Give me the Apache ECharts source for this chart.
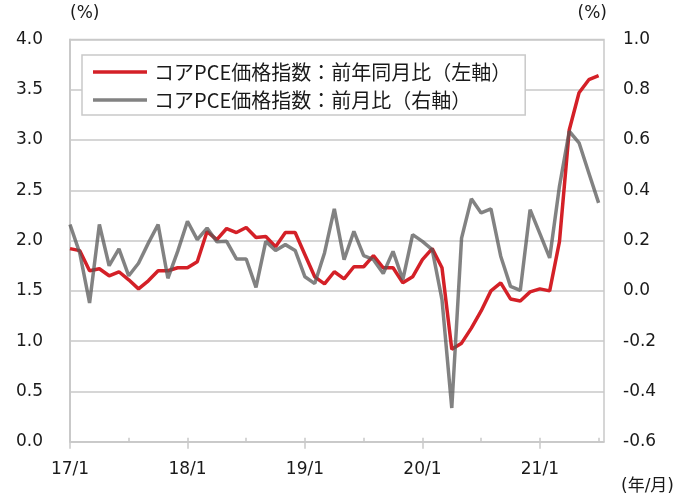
<!DOCTYPE html>
<html>
<head>
<meta charset="utf-8">
<script src="https://cdn.jsdelivr.net/npm/echarts@6/dist/echarts.min.js"></script>
<style>
  html, body { margin: 0; padding: 0; background: #ffffff; }
  #chart { width: 684px; height: 500px; }
</style>
</head>
<body>
<div id="chart"></div>
<script>
// ---- data (monthly, 2017/1 .. 2021/7) ----
const months = [
  '17/1','17/2','17/3','17/4','17/5','17/6','17/7','17/8','17/9','17/10','17/11','17/12',
  '18/1','18/2','18/3','18/4','18/5','18/6','18/7','18/8','18/9','18/10','18/11','18/12',
  '19/1','19/2','19/3','19/4','19/5','19/6','19/7','19/8','19/9','19/10','19/11','19/12',
  '20/1','20/2','20/3','20/4','20/5','20/6','20/7','20/8','20/9','20/10','20/11','20/12',
  '21/1','21/2','21/3','21/4','21/5','21/6','21/7'
];
const yoyName = 'コアPCE価格指数：前年同月比（左軸）';
const momName = 'コアPCE価格指数：前月比（右軸）';
const yoy = [
  1.92, 1.90, 1.70, 1.72, 1.65, 1.69, 1.61, 1.52, 1.60, 1.70, 1.70, 1.73,
  1.73, 1.79, 2.09, 2.01, 2.12, 2.08, 2.13, 2.03, 2.04, 1.94, 2.08, 2.08,
  1.86, 1.64, 1.57, 1.69, 1.62, 1.74, 1.74, 1.85, 1.73, 1.73, 1.58, 1.64,
  1.81, 1.92, 1.73, 0.92, 0.98, 1.13, 1.30, 1.50, 1.58, 1.42, 1.40, 1.49,
  1.52, 1.50, 1.99, 3.10, 3.47, 3.60, 3.64
];
const mom = [
  0.264, 0.15, -0.048, 0.264, 0.10, 0.167, 0.06, 0.11, 0.19, 0.264, 0.05, 0.157,
  0.277, 0.204, 0.25, 0.195, 0.197, 0.127, 0.127, 0.014, 0.197, 0.161, 0.184, 0.161,
  0.056, 0.029, 0.151, 0.326, 0.124, 0.237, 0.140, 0.124, 0.069, 0.157, 0.045, 0.224,
  0.197, 0.164, -0.035, -0.466, 0.21, 0.366, 0.31, 0.326, 0.138, 0.018, 0.002, 0.323,
  0.228, 0.131, 0.416, 0.635, 0.589, 0.469, 0.35
];
const xTickLabels = ['17/1', '18/1', '19/1', '20/1', '21/1'];
const leftTicks = [0.0, 0.5, 1.0, 1.5, 2.0, 2.5, 3.0, 3.5, 4.0];
const rightTicks = [-0.6, -0.4, -0.2, 0.0, 0.2, 0.4, 0.6, 0.8, 1.0];
const unitLeft = '(%)', unitRight = '(%)', unitX = '(年/月)';

// ---- build ----
const labelIdx = xTickLabels.map(l => months.indexOf(l));
const halfYearIdx = months.map((m, i) => i).filter(i => /\/(1|7)$/.test(months[i]));
const gridColor = '#c9c9c9';
const redColor = '#d42027';
const grayColor = 'rgba(88,88,88,0.75)';
const fontNum = '"DejaVu Sans", "Noto Sans CJK JP", sans-serif';
const fontJP = '"Noto Sans CJK JP", "DejaVu Sans", sans-serif';
const txt = { fontFamily: fontNum, fontSize: 17, fontWeight: 'normal', color: '#1a1a1a' };

const chart = echarts.init(document.getElementById('chart'), null, { renderer: 'canvas' });
chart.setOption({
  animation: false,
  backgroundColor: '#ffffff',
  title: [
    { text: unitLeft, left: 70, top: 5, padding: 0, textStyle: txt },
    { text: unitRight, right: 77, top: 5, padding: 0, textStyle: txt },
    { text: unitX, right: 10, top: 478, padding: 0, textStyle: txt }
  ],
  grid: {
    left: 70, right: 80, top: 39.5, bottom: 58.3,
    show: true, borderColor: gridColor, borderWidth: 1.5, backgroundColor: 'transparent'
  },
  legend: {
    orient: 'vertical', left: 82, top: 55,
    padding: [7, 14, 5, 11],
    itemGap: 8, itemWidth: 54, itemHeight: 3.5,
    backgroundColor: '#ffffff',
    borderColor: gridColor, borderWidth: 1.5,
    textStyle: { fontFamily: fontJP, fontSize: 20, color: '#1a1a1a', padding: [0, 0, 0, 2] },
    data: [
      { name: yoyName, icon: 'rect', itemStyle: { color: redColor } },
      { name: momName, icon: 'rect', itemStyle: { color: grayColor } }
    ]
  },
  xAxis: [{
    type: 'value', min: 0, max: months.length - 0.45, interval: 6,
    position: 'bottom',
    axisLine: { show: true, onZero: false, lineStyle: { color: gridColor, width: 1.5 } },
    axisTick: { show: true, inside: true, length: 4, customValues: halfYearIdx,
      lineStyle: { color: gridColor, width: 1.5 } },
    axisLabel: {
      customValues: labelIdx, margin: 19,
      formatter: v => months[Math.round(v)],
      fontFamily: fontNum, fontSize: 17, color: '#1a1a1a'
    },
    splitLine: { show: false }
  }, {
    type: 'value', min: 0, max: months.length - 0.45, interval: 6,
    position: 'bottom',
    axisLine: { show: false, onZero: false },
    axisTick: { show: true, inside: false, length: 7, customValues: labelIdx,
      lineStyle: { color: gridColor, width: 1.5 } },
    axisLabel: { show: false },
    splitLine: { show: false }
  }],
  yAxis: [{
    type: 'value', min: leftTicks[0], max: leftTicks[leftTicks.length - 1], interval: 0.5,
    position: 'left',
    axisLine: { show: true, lineStyle: { color: gridColor, width: 1.5 } },
    axisTick: { show: false },
    axisLabel: { margin: 27, formatter: v => v.toFixed(1), fontFamily: fontNum, fontSize: 17, color: '#1a1a1a' },
    splitLine: { show: true, lineStyle: { color: gridColor, width: 1.5 } }
  }, {
    type: 'value', min: rightTicks[0], max: rightTicks[rightTicks.length - 1], interval: 0.2,
    position: 'right',
    axisLine: { show: true, lineStyle: { color: gridColor, width: 1.5 } },
    axisTick: { show: false },
    axisLabel: { margin: 19, formatter: v => (Math.abs(v) < 1e-9 ? 0 : v).toFixed(1), fontFamily: fontNum, fontSize: 17, color: '#1a1a1a' },
    splitLine: { show: false }
  }],
  series: [{
    name: yoyName, type: 'line', xAxisIndex: 0, yAxisIndex: 0,
    data: yoy.map((v, i) => [i, v]),
    symbol: 'none', showSymbol: false,
    lineStyle: { color: redColor, width: 3.5 },
    itemStyle: { color: redColor },
    z: 2
  }, {
    name: momName, type: 'line', xAxisIndex: 0, yAxisIndex: 1,
    data: mom.map((v, i) => [i, v]),
    symbol: 'none', showSymbol: false,
    lineStyle: { color: grayColor, width: 3.5 },
    itemStyle: { color: grayColor },
    z: 3
  }]
});
</script>
</body>
</html>
